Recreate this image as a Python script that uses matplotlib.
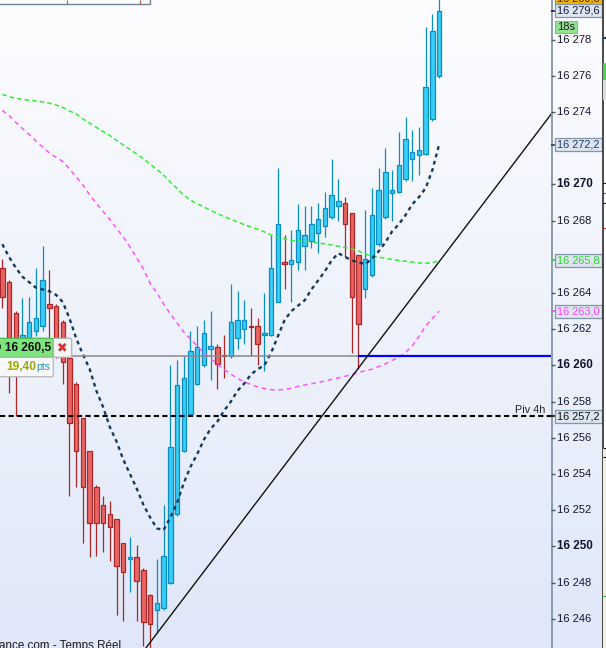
import numpy as np
import matplotlib
matplotlib.use("Agg")
import matplotlib.pyplot as plt
from matplotlib.patches import Rectangle, FancyBboxPatch
from matplotlib.colors import LinearSegmentedColormap

plt.rcParams['font.family'] = ['Liberation Sans', 'DejaVu Sans']

# -------------------------------------------------
# DATA
# -------------------------------------------------
opens = [16265.4, 16264.6, 16262.9, 16261.0, 16261.3, 16261.9, 16262.2, 16263.4, 16263.3, 16262.4,
         16260.4, 16259.0, 16257.1, 16255.3, 16253.3, 16252.3, 16251.8, 16251.5, 16250.2, 16249.3,
         16249.4, 16248.7, 16247.3, 16246.5, 16246.6, 16248.0, 16251.8, 16255.3, 16257.3, 16259.0,
         16260.0, 16260.9, 16261.0, 16260.55, 16260.5, 16261.5, 16262.0, 16262.2, 16262.2, 16261.7,
         16261.7, 16263.5, 16265.7, 16265.6, 16265.7, 16266.6, 16266.9, 16267.3, 16267.7, 16268.2,
         16268.8, 16269.0, 16268.4, 16266.1, 16264.2, 16265.0, 16266.7, 16268.2, 16269.5, 16269.6,
         16270.3, 16271.4, 16271.6, 16271.7, 16273.6, 16276.0]
highs = [16265.9, 16264.7, 16263.0, 16263.7, 16263.8, 16265.4, 16266.6, 16265.3, 16263.4, 16262.5,
         16260.5, 16259.1, 16257.1, 16255.3, 16253.4, 16252.8, 16252.5, 16251.5, 16250.2, 16250.5,
         16250.1, 16248.8, 16247.4, 16249.3, 16252.3, 16260.0, 16260.3, 16260.5, 16261.9, 16262.2,
         16262.5, 16263.0, 16261.2, 16261.7, 16264.5, 16264.1, 16263.6, 16263.2, 16262.6, 16264.0,
         16267.2, 16270.9, 16267.2, 16267.5, 16268.9, 16268.8, 16268.8, 16269.0, 16269.6, 16271.4,
         16270.3, 16269.3, 16268.4, 16266.1, 16268.6, 16269.8, 16270.9, 16272.0, 16270.8, 16272.9,
         16273.7, 16273.0, 16273.2, 16278.7, 16279.4, 16280.5]
lows = [16263.2, 16258.5, 16257.2, 16260.7, 16261.0, 16261.6, 16261.9, 16261.1, 16260.4, 16259.0,
        16252.8, 16253.3, 16250.2, 16249.4, 16249.5, 16249.7, 16249.2, 16246.2, 16245.9, 16247.5,
        16245.9, 16244.5, 16244.2, 16245.2, 16246.5, 16247.9, 16251.7, 16255.2, 16257.2, 16258.9,
        16259.9, 16259.2, 16258.7, 16259.3, 16260.4, 16260.9, 16261.2, 16260.5, 16260.0, 16259.7,
        16261.6, 16263.5, 16264.2, 16263.5, 16265.3, 16265.3, 16266.5, 16266.2, 16267.1, 16268.1,
        16268.0, 16266.0, 16260.7, 16259.8, 16263.7, 16264.9, 16266.6, 16268.1, 16268.0, 16269.5,
        16270.2, 16270.2, 16270.5, 16271.6, 16273.5, 16275.9]
closes = [16263.8, 16261.1, 16260.9, 16261.7, 16262.4, 16262.6, 16264.7, 16263.2, 16260.8, 16260.2,
          16256.8, 16255.3, 16253.3, 16251.3, 16251.3, 16251.3, 16251.1, 16248.9, 16248.6, 16249.4,
          16248.1, 16245.8, 16245.7, 16246.9, 16249.5, 16255.5, 16258.9, 16259.3, 16260.8, 16261.0,
          16261.8, 16261.1, 16260.1, 16260.5, 16262.4, 16262.5, 16262.5, 16262.1, 16261.2, 16261.8,
          16265.4, 16267.8, 16265.6, 16265.8, 16267.5, 16267.2, 16267.8, 16268.1, 16268.7, 16269.4,
          16269.1, 16267.8, 16263.8, 16262.3, 16265.9, 16268.3, 16269.7, 16270.7, 16269.7, 16271.1,
          16272.5, 16271.8, 16271.9, 16275.4, 16278.5, 16279.6]

ma_navy = [16266.7, 16266.0, 16265.4, 16264.9, 16264.6, 16264.3, 16264.2, 16264.1, 16263.9, 16263.5,
           16262.6, 16261.5, 16260.6, 16259.8, 16258.6, 16257.7, 16256.6, 16255.8, 16254.8, 16254.0,
           16253.2, 16252.3, 16251.6, 16251.0, 16250.9, 16251.6, 16252.4, 16253.5, 16254.4, 16255.1,
           16255.9, 16256.5, 16256.9, 16257.5, 16258.0, 16258.6, 16259.0, 16259.5, 16259.8, 16260.0,
           16260.7, 16261.6, 16262.5, 16263.0, 16263.3, 16263.6, 16264.2, 16264.7, 16265.2, 16265.8,
           16266.2, 16266.0, 16265.8, 16265.7, 16265.6, 16265.9, 16266.3, 16266.8, 16267.4, 16267.8,
           16268.3, 16268.9, 16269.3, 16269.8, 16270.8, 16272.2]
ma_green = [16274.97, 16274.86, 16274.75, 16274.70, 16274.65, 16274.61, 16274.56, 16274.49, 16274.39, 16274.25,
            16274.06, 16273.90, 16273.62, 16273.39, 16273.15, 16272.92, 16272.70, 16272.43, 16272.18, 16271.93,
            16271.69, 16271.41, 16271.12, 16270.83, 16270.52, 16270.14, 16269.78, 16269.40, 16269.14, 16268.92,
            16268.76, 16268.56, 16268.39, 16268.23, 16268.07, 16267.93, 16267.78, 16267.65, 16267.52, 16267.38,
            16267.21, 16267.07, 16266.99, 16266.91, 16266.88, 16266.86, 16266.83, 16266.77, 16266.72, 16266.66,
            16266.59, 16266.52, 16266.44, 16266.33, 16266.16, 16266.03, 16265.98, 16265.92, 16265.86, 16265.80,
            16265.76, 16265.71, 16265.66, 16265.65, 16265.67, 16265.80]
ma_pink = [16274.09, 16273.81, 16273.43, 16273.09, 16272.76, 16272.40, 16272.06, 16271.74, 16271.50, 16271.27,
           16270.86, 16270.41, 16269.97, 16269.42, 16268.95, 16268.51, 16268.07, 16267.57, 16267.10, 16266.55,
           16265.94, 16265.33, 16264.53, 16264.01, 16263.40, 16262.85, 16262.35, 16261.85, 16261.46, 16261.08,
           16260.69, 16260.39, 16260.06, 16259.78, 16259.53, 16259.28, 16259.09, 16258.95, 16258.81, 16258.73,
           16258.66, 16258.65, 16258.67, 16258.74, 16258.84, 16258.92, 16258.99, 16259.06, 16259.14, 16259.23,
           16259.31, 16259.40, 16259.50, 16259.61, 16259.71, 16259.79, 16259.94, 16260.08, 16260.28, 16260.44,
           16260.72, 16261.08, 16261.60, 16262.18, 16262.60, 16263.00]

pivot_4h = 16257.2
order_level = 16260.5
order_start = 53
trend_a = (22, 16244.70)
trend_b = (53, 16259.86)

tick_values = [16246, 16248, 16250, 16252, 16254, 16256, 16258, 16260, 16262,
               16264, 16268, 16270, 16274, 16276, 16278]
box_values = [16280.3, 16279.6, 16272.2, 16265.8, 16263.0, 16257.2]
box_text_colors = ['#3a2a00', '#1a1a3a', '#1c3c6c', '#22dd22', '#ff44ff', '#111111']
box_faces = ['#f3b400', '#dde5f0', '#dde5f0', '#dde5f0', '#dde5f0', '#dde5f0']

order_price_text = "@ 16 260,5"
order_pts_text = "19,40"
countdown_text = "18s"

# -------------------------------------------------
# LAYOUT
# -------------------------------------------------
W, H = 606, 648
AXIS_X = 551
Y_TOP, Y_BOT = 16280.19, 16244.39
X_LEFT, X_RIGHT = -0.342, 81.65
BODY_W = 0.66

BLUE_FACE, BLUE_EDGE = '#38cdf4', '#0a8dc2'
RED_FACE, RED_EDGE = '#e96565', '#ac2626'

fig = plt.figure(figsize=(W / 100, H / 100), dpi=100)
ax = fig.add_axes([0, 0, AXIS_X / W, 1])
axr = fig.add_axes([AXIS_X / W, 0, (W - AXIS_X) / W, 1])
ov = fig.add_axes([0, 0, 1, 1])

bg = LinearSegmentedColormap.from_list("bg", ["#fdfdff", "#dfe7f8"])
grad = np.linspace(0, 1, 256).reshape(-1, 1)

# main panel
ax.imshow(grad, cmap=bg, aspect="auto", extent=[X_LEFT, X_RIGHT, Y_BOT, Y_TOP], zorder=0)

idx = np.arange(len(opens))
for i, o, h, l, c in zip(idx, opens, highs, lows, closes):
    up = c >= o
    edge = BLUE_EDGE if up else RED_EDGE
    face = BLUE_FACE if up else RED_FACE
    ax.vlines(i, l, h, color=edge, lw=0.9, zorder=4)
    lo, hi = min(o, c), max(o, c)
    ax.add_patch(Rectangle((i - BODY_W / 2, lo), BODY_W, max(hi - lo, 0.03),
                           facecolor=face, edgecolor=edge, lw=0.9, zorder=5))

ax.plot(idx, ma_green, color='#33ee33', lw=1.1, ls=(0, (3, 2)), zorder=6)
ax.plot(idx, ma_pink, color='#ff55ff', lw=1.1, ls=(0, (3, 2.5)), zorder=6)
ax.plot(idx, ma_navy, color='#163a5f', lw=1.7, ls=(0, (1.6, 1.6)), zorder=6)

ax.axhline(pivot_4h, color='black', lw=1.5, ls=(0, (2.5, 1.6)), zorder=7)
ax.hlines(order_level, X_LEFT, order_start, color='#8a8a8a', lw=1.1, zorder=7)
ax.hlines(order_level, order_start, X_RIGHT, color='#0000ff', lw=1.6, zorder=7)
ax.axline(trend_a, trend_b, color='#111111', lw=1.0, zorder=7)

ax.text((AXIS_X - 6) / AXIS_X, pivot_4h + 0.33, "Piv 4h", transform=ax.get_yaxis_transform(),
        ha='right', va='center', fontsize=7.8, color='#222222', zorder=8)

ax.set_xlim(X_LEFT, X_RIGHT)
ax.set_ylim(Y_BOT, Y_TOP)
ax.axis('off')

# right price axis
axr.imshow(grad, cmap=bg, aspect="auto", extent=[0, W - AXIS_X, Y_BOT, Y_TOP], zorder=0)
axr.axvline(0.6, color='#7d8ea0', lw=1.2, zorder=2)
axr.hlines(tick_values, 0, 4, color='#4a5a6a', lw=1.0, zorder=2)
for v in tick_values:
    bold = v % 10 == 0
    axr.text(6, v, f"{v // 1000} {v % 1000:03d}", va='center', ha='left',
             fontsize=8.4 if bold else 8.0, fontweight='bold' if bold else 'normal',
             color='#141430', zorder=3)

for v, tc, fc in zip(box_values, box_text_colors, box_faces):
    axr.hlines(v, -1, 4, color=tc, lw=1.2, zorder=3)
    axr.add_patch(FancyBboxPatch((4, v - 0.36), 46.5, 0.72, boxstyle='square,pad=0',
                                 facecolor=fc, edgecolor='#8395aa', lw=0.9, zorder=4))
    label = f"{int(v) // 1000} {v - 16000:05.1f}".replace('.', ',')
    axr.text(6, v, label, va='center', ha='left', fontsize=7.9, color=tc, zorder=5)

axr.axvline(51.6, color='#3c3c3c', lw=1.3, zorder=6)
axr.axvspan(52.3, W - AXIS_X, color='white', zorder=5)
axr.set_xlim(0, W - AXIS_X)
axr.set_ylim(Y_BOT, Y_TOP)
axr.axis('off')

# overlay in pixel coordinates for screen widgets
ov.set_xlim(0, W)
ov.set_ylim(H, 0)
ov.axis('off')
ov.patch.set_visible(False)

# countdown
ov.add_patch(Rectangle((554.7, 20.7), 22, 12.6, facecolor='#92e492', edgecolor='#78c878', lw=0.8))
ov.text(557, 27.3, countdown_text, va='center', ha='left', fontsize=8, color='#1a1a1a')

# panel beyond the border
ov.add_patch(Rectangle((603, 63), 4, 17, facecolor='#5acc5a', lw=0))
ov.add_patch(Rectangle((603, 80), 4, 20, facecolor='#dcdcdc', lw=0))
ov.add_patch(Rectangle((603, 448), 4, 200, facecolor='#f3f1dc', lw=0))
ov.hlines([183, 203, 448, 457], 603, 606, color='#111111', lw=0.8)
ov.hlines([193, 228], 603, 606, color='#dd2222', lw=0.8)
ov.hlines([596], 603, 606, color='#2a9a2a', lw=0.8)
ov.hlines([38], 603, 606, color='#1a3a6a', lw=1.5)

# info box at top-left
ov.add_patch(Rectangle((-2, -10), 152, 14, facecolor='#fdfdfd', edgecolor='#6f8494', lw=1.0))
ov.vlines([67, 140], 0, 3.5, color='#c05050', lw=0.8)

# order label
ov.add_patch(FancyBboxPatch((-6, 338.3), 59.3, 19, boxstyle='round,pad=0,rounding_size=2',
                            facecolor='#7ce67c', edgecolor='#50b850', lw=0.9))
ov.text(-10, 348, order_price_text, va='center', ha='left', fontsize=8.6, fontweight='bold',
        color='#111111')
ov.add_patch(FancyBboxPatch((53.3, 338.3), 18.4, 19, boxstyle='round,pad=0,rounding_size=2',
                            facecolor='#f4f4f4', edgecolor='#b0b0b0', lw=0.9))
ov.text(62.5, 348, "\u2716", va='center', ha='center', fontsize=9, color='#d83030',
        family=['DejaVu Sans'])
ov.add_patch(FancyBboxPatch((-6, 357.3), 59.3, 19.4, boxstyle='round,pad=0,rounding_size=2',
                            facecolor='#f6f8fb', edgecolor='#b8b8b8', lw=0.9))
ov.text(6, 367, order_pts_text, va='center', ha='left', fontsize=8.6, fontweight='bold',
        color='#9ea800')
ov.text(36, 367.5, "pts", va='center', ha='left', fontsize=7.6, color='#2b95b5')

# source line at bottom
ov.text(-1, 640, "ance.com - Temps R\u00e9el", va='top', ha='left', fontsize=8.4, color='#1a1a1a')

fig.savefig("out.png", dpi=100)
